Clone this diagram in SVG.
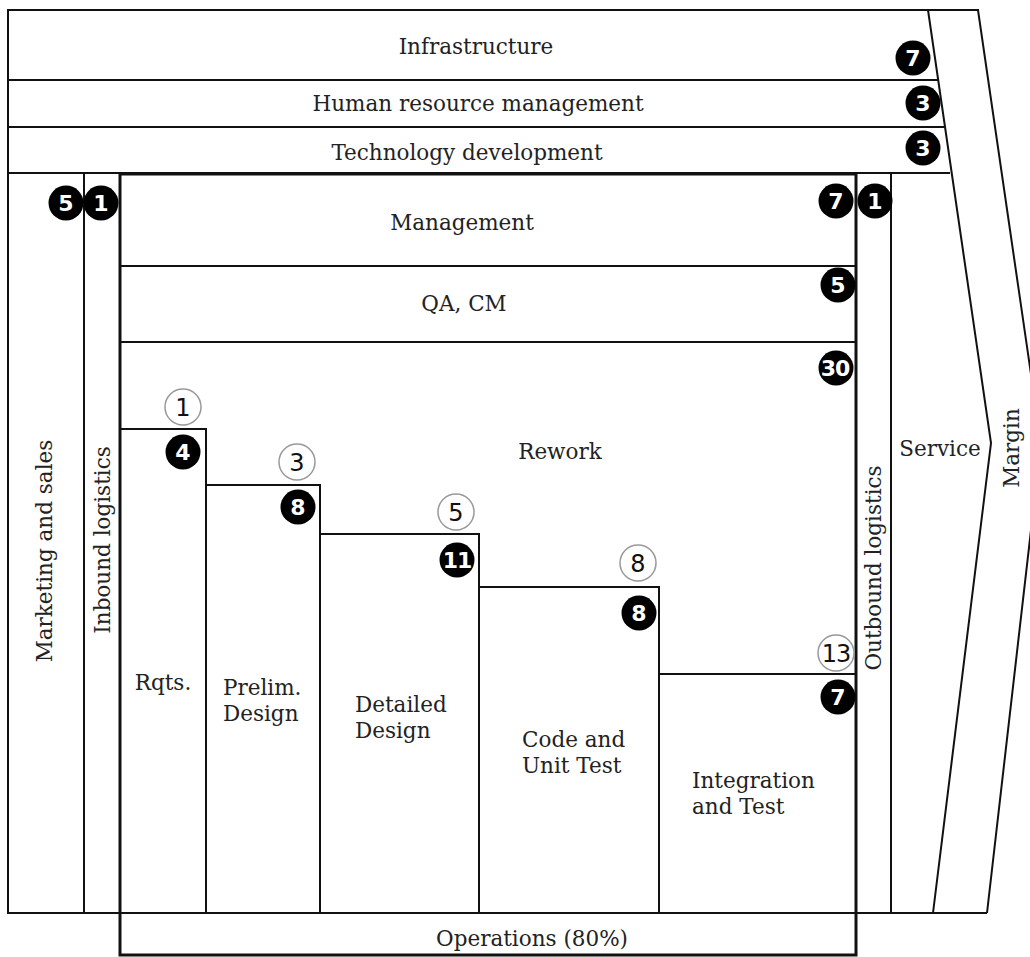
<svg xmlns="http://www.w3.org/2000/svg" width="1030" height="957" viewBox="0 0 1030 957">
<style>
.ln{fill:none;stroke:#111;stroke-width:2}
.bx{fill:none;stroke:#111;stroke-width:3}
.t{font-family:"DejaVu Serif","Liberation Serif",serif;font-size:21.5px;fill:#222}
.m{text-anchor:middle}
.bc{fill:#000}
.oc{fill:#fff;stroke:#999;stroke-width:1.5}
.bt{font-family:"DejaVu Sans","Liberation Sans",sans-serif;font-weight:bold;font-size:22px;fill:#fff;text-anchor:middle}
.ot{font-family:"DejaVu Sans","Liberation Sans",sans-serif;font-size:24px;fill:#111;text-anchor:middle}
</style>
<rect width="1030" height="957" fill="#fff"/>
<g id="frame">
<polyline class="ln" points="928,10 8,10 8,913 987,913"/>
<polyline class="ln" points="928,10 991,443 933,913"/>
<polyline class="ln" points="928,10 978,10 1041,443 987,913"/>
<line class="ln" x1="8" y1="80" x2="938" y2="80"/>
<line class="ln" x1="8" y1="127" x2="944" y2="127"/>
<line class="ln" x1="8" y1="173" x2="950" y2="173"/>
</g>
<g id="infrastructure"><text class="t m" x="476" y="54">Infrastructure</text></g>
<g id="hrm"><text class="t m" x="478" y="111">Human resource management</text></g>
<g id="techdev"><text class="t m" x="467" y="160">Technology development</text></g>
<g id="marketing"><line class="ln" x1="84" y1="173" x2="84" y2="913"/><text class="t m" transform="translate(52,551) rotate(-90)">Marketing and sales</text></g>
<g id="inbound"><text class="t m" transform="translate(110,540) rotate(-90)">Inbound logistics</text></g>
<g id="outbound"><line class="ln" x1="891" y1="173" x2="891" y2="913"/><text class="t m" transform="translate(881,568) rotate(-90)">Outbound logistics</text></g>
<g id="service"><text class="t m" x="940" y="456">Service</text></g>
<g id="margin"><text class="t m" transform="translate(1019,448) rotate(-90)">Margin</text></g>
<g id="core">
<rect class="bx" x="120" y="174" width="736" height="781"/>
<line class="ln" x1="120" y1="913" x2="856" y2="913"/>
</g>
<g id="management"><line class="ln" x1="120" y1="266" x2="856" y2="266"/><text class="t m" x="462" y="230">Management</text></g>
<g id="qacm"><line class="ln" x1="120" y1="342" x2="856" y2="342"/><text class="t m" x="464" y="311">QA, CM</text></g>
<g id="rework"><text class="t m" x="560" y="459">Rework</text></g>
<g id="rqts"><polyline class="ln" points="120,429 206,429 206,913"/><text class="t m" x="163" y="690">Rqts.</text></g>
<g id="prelim"><polyline class="ln" points="206,485 320,485 320,913"/><text class="t" x="223" y="695">Prelim.<tspan x="223" y="721">Design</tspan></text></g>
<g id="detailed"><polyline class="ln" points="320,534 479,534 479,913"/><text class="t" x="355" y="712">Detailed<tspan x="355" y="738">Design</tspan></text></g>
<g id="code"><polyline class="ln" points="479,587 659,587 659,913"/><text class="t" x="522" y="747">Code and<tspan x="522" y="773">Unit Test</tspan></text></g>
<g id="integration"><polyline class="ln" points="659,674 856,674"/><text class="t" x="692" y="788">Integration<tspan x="692" y="814">and Test</tspan></text></g>
<g id="operations"><text class="t m" x="532" y="946">Operations (80%)</text></g>
<g id="badges">
<circle class="bc" cx="913" cy="58" r="17.5"/><text class="bt" x="913" y="66">7</text>
<circle class="bc" cx="923" cy="103" r="17.5"/><text class="bt" x="923" y="111">3</text>
<circle class="bc" cx="923" cy="148" r="17.5"/><text class="bt" x="923" y="156">3</text>
<circle class="bc" cx="66" cy="203" r="17.5"/><text class="bt" x="66" y="211">5</text>
<circle class="bc" cx="101" cy="203" r="17.5"/><text class="bt" x="101" y="211">1</text>
<circle class="bc" cx="836" cy="201" r="17.5"/><text class="bt" x="836" y="209">7</text>
<circle class="bc" cx="875" cy="201" r="17.5"/><text class="bt" x="875" y="209">1</text>
<circle class="bc" cx="838" cy="285" r="17.5"/><text class="bt" x="838" y="293">5</text>
<circle class="bc" cx="836" cy="368" r="17.5"/><text class="bt" x="835" y="376" letter-spacing="-1">30</text>
<circle class="oc" cx="183" cy="407" r="18"/><text class="ot" x="183" y="416">1</text>
<circle class="bc" cx="183" cy="452" r="17.5"/><text class="bt" x="183" y="460">4</text>
<circle class="oc" cx="297" cy="462" r="18"/><text class="ot" x="297" y="471">3</text>
<circle class="bc" cx="298" cy="507" r="17.5"/><text class="bt" x="298" y="515">8</text>
<circle class="oc" cx="456" cy="512" r="18"/><text class="ot" x="456" y="521">5</text>
<circle class="bc" cx="457" cy="560" r="17.5"/><text class="bt" x="457" y="568" letter-spacing="-1">11</text>
<circle class="oc" cx="638" cy="563" r="18"/><text class="ot" x="638" y="572">8</text>
<circle class="bc" cx="639" cy="613" r="17.5"/><text class="bt" x="639" y="621">8</text>
<circle class="oc" cx="836" cy="653" r="18"/><text class="ot" x="836" y="662" letter-spacing="-1">13</text>
<circle class="bc" cx="838" cy="697" r="17.5"/><text class="bt" x="838" y="705">7</text>
</g>
</svg>
